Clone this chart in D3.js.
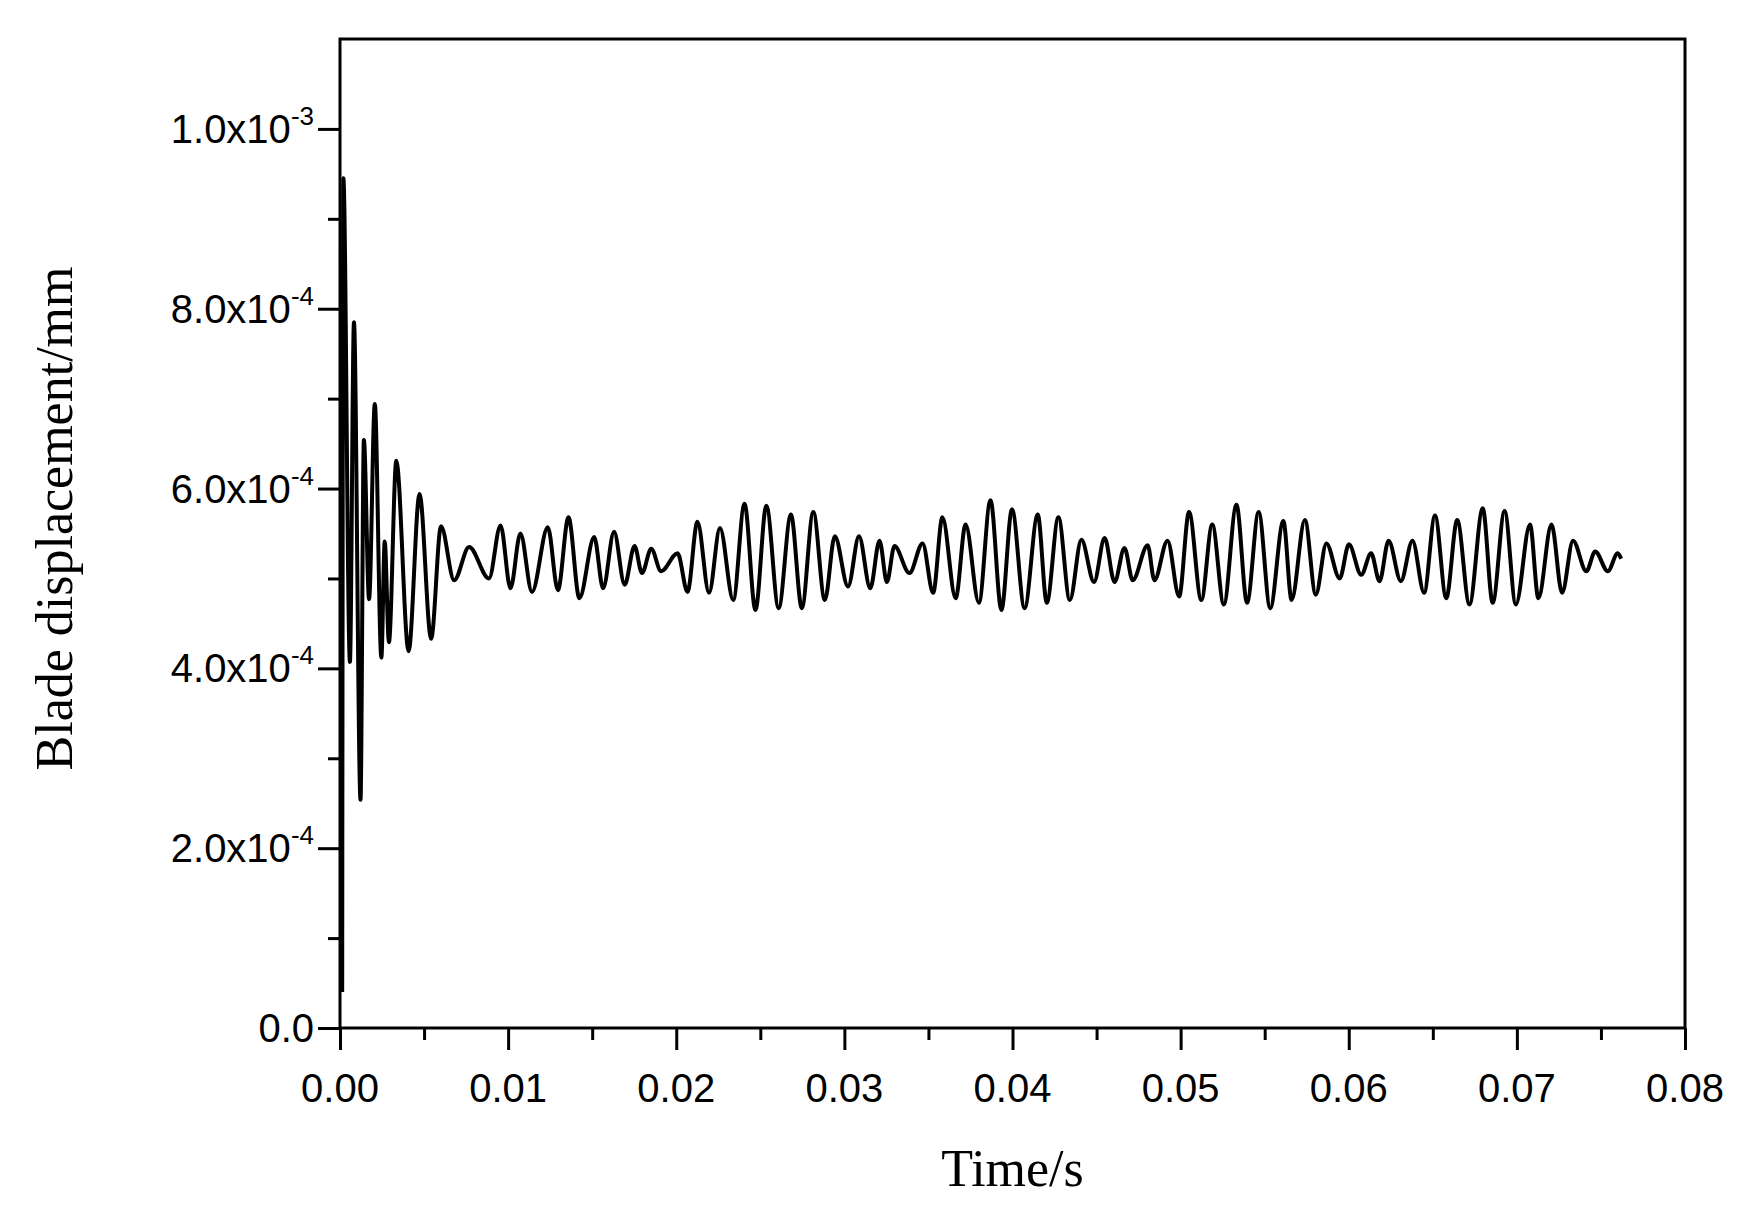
<!DOCTYPE html>
<html>
<head>
<meta charset="utf-8">
<script src="https://cdn.jsdelivr.net/npm/d3@7"></script>
<style>
  body { margin: 0; background: #fff; }
</style>
</head>
<body>
<script>
const W = 1750, H = 1205;
const margin = {left: 340, right: 65, top: 39, bottom: 177};

// time (s) of each turning point of the trace
const timeS = [
  0.00013, 0.0002, 0.00059, 0.00083, 0.00122, 0.00142, 0.00173, 0.00207, 0.00246, 0.00266,
  0.00291, 0.00335, 0.00408, 0.00473, 0.00542, 0.00601, 0.00679, 0.00768, 0.00886, 0.00955,
  0.01014, 0.01073, 0.01142, 0.01236, 0.01296, 0.01359, 0.01424, 0.01512, 0.01565, 0.01630,
  0.01693, 0.01752, 0.01796, 0.01851, 0.01910, 0.02008, 0.02067, 0.02126, 0.02195, 0.02260,
  0.02339, 0.02406, 0.02471, 0.02536, 0.02609, 0.02682, 0.02747, 0.02815, 0.02884, 0.02943,
  0.03022, 0.03087, 0.03154, 0.03209, 0.03253, 0.03298, 0.03387, 0.03465, 0.03528, 0.03583,
  0.03662, 0.03721, 0.03800, 0.03869, 0.03934, 0.03997, 0.04072, 0.04150, 0.04204, 0.04273,
  0.04341, 0.04410, 0.04485, 0.04548, 0.04607, 0.04666, 0.04715, 0.04804, 0.04844, 0.04922,
  0.04991, 0.05050, 0.05123, 0.05188, 0.05257, 0.05332, 0.05395, 0.05464, 0.05533, 0.05611,
  0.05660, 0.05739, 0.05804, 0.05867, 0.05946, 0.06001, 0.06074, 0.06133, 0.06183, 0.06237,
  0.06310, 0.06379, 0.06448, 0.06513, 0.06580, 0.06645, 0.06718, 0.06797, 0.06856, 0.06927,
  0.06994, 0.07078, 0.07128, 0.07206, 0.07269, 0.07334, 0.07413, 0.07466, 0.07541, 0.07600,
  0.07620
];
// blade displacement (x1e-4 mm) at those points
const dispE4 = [
  0.40, 9.45, 4.07, 7.85, 2.54, 6.54, 4.77, 6.94, 4.12, 5.41,
  4.29, 6.31, 4.19, 5.94, 4.33, 5.58, 4.98, 5.35, 5.00, 5.59,
  4.89, 5.50, 4.85, 5.57, 4.87, 5.68, 4.78, 5.46, 4.89, 5.52,
  4.93, 5.36, 5.06, 5.33, 5.08, 5.28, 4.85, 5.63, 4.84, 5.56,
  4.76, 5.83, 4.65, 5.81, 4.67, 5.71, 4.67, 5.74, 4.76, 5.47,
  4.91, 5.47, 4.89, 5.42, 4.96, 5.36, 5.06, 5.39, 4.84, 5.68,
  4.78, 5.60, 4.73, 5.87, 4.65, 5.77, 4.67, 5.71, 4.73, 5.68,
  4.76, 5.43, 4.96, 5.45, 4.96, 5.34, 4.98, 5.37, 4.98, 5.42,
  4.80, 5.74, 4.76, 5.60, 4.71, 5.82, 4.73, 5.74, 4.67, 5.64,
  4.76, 5.65, 4.82, 5.39, 5.00, 5.38, 5.04, 5.28, 4.97, 5.42,
  4.97, 5.42, 4.84, 5.70, 4.78, 5.65, 4.71, 5.78, 4.73, 5.75,
  4.71, 5.60, 4.78, 5.60, 4.84, 5.42, 5.08, 5.30, 5.08, 5.28,
  5.22
];
const xTicks = [0, 0.01, 0.02, 0.03, 0.04, 0.05, 0.06, 0.07, 0.08];
const yTicks = [0, 2e-4, 4e-4, 6e-4, 8e-4, 1e-3];
const yTickText = [
  ["0.0", ""], ["2.0x10", "-4"], ["4.0x10", "-4"], ["6.0x10", "-4"], ["8.0x10", "-4"], ["1.0x10", "-3"]
];

const series = timeS.map((t, i) => ({t: t, v: dispE4[i] * 1e-4}));

const svg = d3.select("body").append("svg").attr("width", W).attr("height", H);

const x = d3.scaleLinear().domain([0, 0.08]).range([margin.left, W - margin.right]);
const y = d3.scaleLinear().domain([0, 1.1e-3]).range([H - margin.bottom, margin.top]);

// frame
svg.append("rect")
  .attr("x", x(0)).attr("y", y(1.1e-3))
  .attr("width", x(0.08) - x(0)).attr("height", y(0) - y(1.1e-3))
  .attr("fill", "none").attr("stroke", "#000").attr("stroke-width", 3);

// x axis
const xAxis = svg.append("g").attr("transform", `translate(0,${y(0)})`)
  .call(d3.axisBottom(x).tickValues(d3.range(0, 0.0801, 0.005)).tickSize(12).tickFormat(""));
xAxis.selectAll(".tick line").attr("stroke-width", 3)
  .attr("y2", (d, i) => i % 2 === 0 ? 22 : 12);
xAxis.select(".domain").remove();
svg.append("g").selectAll("text").data(xTicks).enter().append("text")
  .attr("x", d => x(d)).attr("y", y(0) + 74)
  .attr("text-anchor", "middle")
  .attr("font-family", "Liberation Sans, Arial, sans-serif").attr("font-size", 40)
  .text(d => d.toFixed(2));

// y axis
const yAxis = svg.append("g").attr("transform", `translate(${x(0)},0)`)
  .call(d3.axisLeft(y).tickValues(d3.range(0, 1.05e-3, 1e-4)).tickSize(12).tickFormat(""));
yAxis.selectAll(".tick line").attr("stroke-width", 3)
  .attr("x2", (d, i) => i % 2 === 0 ? -22 : -12);
yAxis.select(".domain").remove();
const yl = svg.append("g").selectAll("text").data(yTicks).enter().append("text")
  .attr("x", x(0) - 26).attr("y", d => y(d) + 14)
  .attr("text-anchor", "end")
  .attr("font-family", "Liberation Sans, Arial, sans-serif").attr("font-size", 40);
yl.append("tspan").text((d, i) => yTickText[i][0]);
yl.append("tspan").attr("font-size", 26).attr("dy", -18).text((d, i) => yTickText[i][1]);

// trace
const line = d3.line().x(d => x(d.t)).y(d => y(d.v)).curve(d3.curveMonotoneX);
svg.append("path").datum(series)
  .attr("d", line).attr("fill", "none")
  .attr("stroke", "#000").attr("stroke-width", 4).attr("stroke-linejoin", "round");

// titles
svg.append("text")
  .attr("x", (x(0) + x(0.08)) / 2).attr("y", 1186)
  .attr("text-anchor", "middle")
  .attr("font-family", "Liberation Serif, Times New Roman, serif").attr("font-size", 52)
  .text("Time/s");
svg.append("text")
  .attr("transform", `translate(72,${(y(0) + y(1.1e-3)) / 2 - 15}) rotate(-90)`)
  .attr("text-anchor", "middle")
  .attr("font-family", "Liberation Serif, Times New Roman, serif").attr("font-size", 52)
  .text("Blade displacement/mm");
</script>
</body>
</html>
